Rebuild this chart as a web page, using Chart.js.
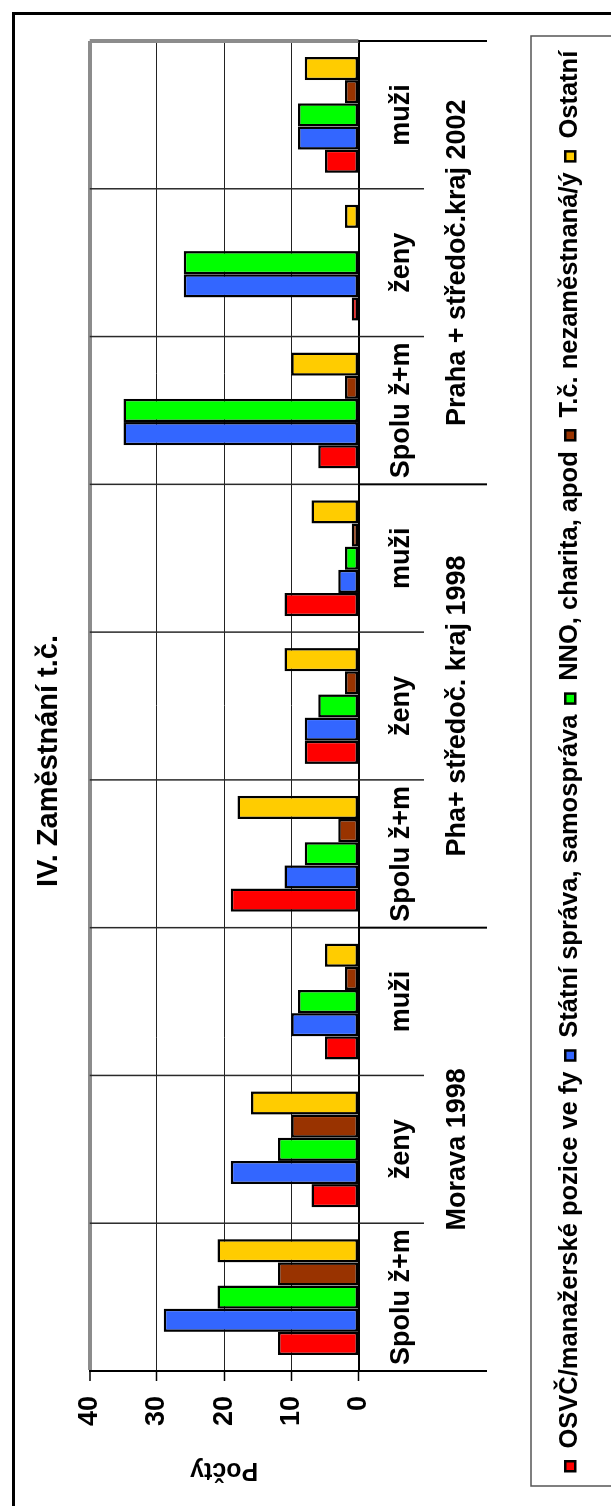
<!DOCTYPE html>
<html><head><meta charset="utf-8">
<script src="https://cdn.jsdelivr.net/npm/chart.js@4/dist/chart.umd.min.js"></script>
<style>
html,body{margin:0;padding:0;background:#fff;overflow:hidden;width:611px;height:1506px;}
#wrap{position:absolute;left:0;top:0;width:1506px;height:611px;transform-origin:0 0;transform:translate(0,1506px) rotate(-90deg);background:#fff;}
canvas{display:block;}
</style></head><body>
<div id="wrap"><canvas id="c" width="1506" height="611"></canvas></div>
<script>
const titleText = 'IV. Zaměstnání t.č.';
const axisTitle = 'Počty';
const categories = ['Spolu ž+m','ženy','muži','Spolu ž+m','ženy','muži','Spolu ž+m','ženy','muži'];
const groups = ['Morava 1998','Pha+ středoč. kraj 1998','Praha + středoč.kraj 2002'];
const seriesNames = ['OSVČ/manažerské pozice ve fy','Státní správa, samospráva','NNO, charita, apod','T.č. nezaměstnaná/ý','Ostatní'];
const osvc    = [12, 7, 5, 19, 8, 11, 6, 1, 5];
const statni  = [29, 19, 10, 11, 8, 3, 35, 26, 9];
const nno     = [21, 12, 9, 8, 6, 2, 35, 26, 9];
const tc      = [12, 10, 2, 3, 2, 1, 2, 0, 2];
const ostatni = [21, 16, 5, 18, 11, 7, 10, 2, 8];
const yMin = 0, yMax = 40, yStep = 10;

const seriesData = [osvc, statni, nno, tc, ostatni];
const seriesColors = ['#ff0000','#3366ff','#00ff00','#993300','#ffcc00'];
const FONT = "'Liberation Sans', Arial, Helvetica, sans-serif";
Chart.defaults.font.family = FONT;
Chart.defaults.color = '#000';

const decor = {
  id: 'decor',
  beforeDraw(chart) {
    const ctx = chart.ctx;
    ctx.save(); ctx.fillStyle = '#fff'; ctx.fillRect(0, 0, chart.width, chart.height); ctx.restore();
  },
  beforeDatasetsDraw(chart) {
    const {ctx, chartArea: a, scales: {x}} = chart;
    ctx.save();
    for (let i = 1; i <= categories.length; i++) {
      const px = x.getPixelForValue(i - 0.5);
      const last = i === categories.length;
      ctx.beginPath();
      ctx.strokeStyle = last ? '#8c8c8c' : '#2a2a2a';
      ctx.lineWidth = last ? 4 : 1.5;
      ctx.moveTo(px, a.top); ctx.lineTo(px, a.bottom); ctx.stroke();
    }
    ctx.restore();
  },
  afterDraw(chart) {
    const {ctx, chartArea: a, scales: {x}} = chart;
    ctx.save();
    for (let i = 0; i <= categories.length; i++) {
      const px = x.getPixelForValue(i - 0.5);
      const isGroup = i % 3 === 0;
      ctx.beginPath();
      ctx.strokeStyle = isGroup ? '#000' : '#222';
      ctx.lineWidth = isGroup ? 2 : 1.5;
      ctx.moveTo(px, a.bottom); ctx.lineTo(px, a.bottom + (isGroup ? 128.5 : 65.5)); ctx.stroke();
    }
    ctx.font = 'bold 27px ' + FONT;
    ctx.fillStyle = '#000';
    ctx.textAlign = 'center';
    ctx.textBaseline = 'middle';
    groups.forEach((g, gi) => {
      const cx = (x.getPixelForValue(gi * 3) + x.getPixelForValue(gi * 3 + 2)) / 2;
      ctx.fillText(g, cx, 458);
    });
    ctx.lineWidth = 3; ctx.strokeStyle = '#000';
    ctx.strokeRect(-10, 13.5, 1502.5, 700);
    ctx.lineWidth = 1.5; ctx.strokeStyle = '#555';
    ctx.strokeRect(20, 531, 1450, 200);
    ctx.restore();
  }
};

new Chart(document.getElementById('c'), {
  type: 'bar',
  data: {
    labels: categories,
    datasets: seriesNames.map((n, i) => ({
      label: n, data: seriesData[i], backgroundColor: seriesColors[i],
      borderColor: '#000', borderWidth: 2.5, borderSkipped: false,
      categoryPercentage: 0.784, barPercentage: 1
    }))
  },
  options: {
    responsive: false, animation: false, devicePixelRatio: 1,
    layout: {padding: {left: 0, right: 16, top: 0, bottom: 18}},
    plugins: {
      tooltip: {enabled: false},
      title: {display: true, text: titleText, color: '#000', font: {size: 29, weight: 'bold'}, padding: {top: 32, bottom: 23}},
      legend: {position: 'bottom', labels: {boxWidth: 10, boxHeight: 10, padding: 11, color: '#000', font: {size: 25.5, weight: 'bold'}}}
    },
    scales: {
      x: {
        offset: true,
        grid: {display: false},
        border: {display: true, color: '#000', width: 2},
        ticks: {font: {size: 27, weight: 'bold'}, color: '#000', padding: 19, maxRotation: 0, minRotation: 0, autoSkip: false},
        afterFit(s) { s.height = 188; }
      },
      y: {
        min: yMin, max: yMax,
        ticks: {stepSize: yStep, font: {size: 27, weight: 'bold'}, color: '#000', padding: 15},
        grid: {
          color: c => (c.tick && c.tick.value === yMax) ? '#8c8c8c' : '#222',
          lineWidth: c => (c.tick && c.tick.value === yMax) ? 4 : 1,
          drawTicks: true, tickLength: 10, tickColor: '#000', tickWidth: 1.5
        },
        border: {display: true, color: '#000', width: 2},
        title: {display: true, text: axisTitle, color: '#000', font: {size: 25, weight: 'bold'}, padding: {top: 21, bottom: 0}},
        afterFit(s) { s.width = 135; }
      },
      yR: {
        type: 'linear', axis: 'y', position: 'right', display: true,
        grid: {display: false}, ticks: {display: false}, border: {display: false},
        afterFit(s) { s.width = 25; }
      }
    }
  },
  plugins: [decor]
});
</script>
</body></html>
